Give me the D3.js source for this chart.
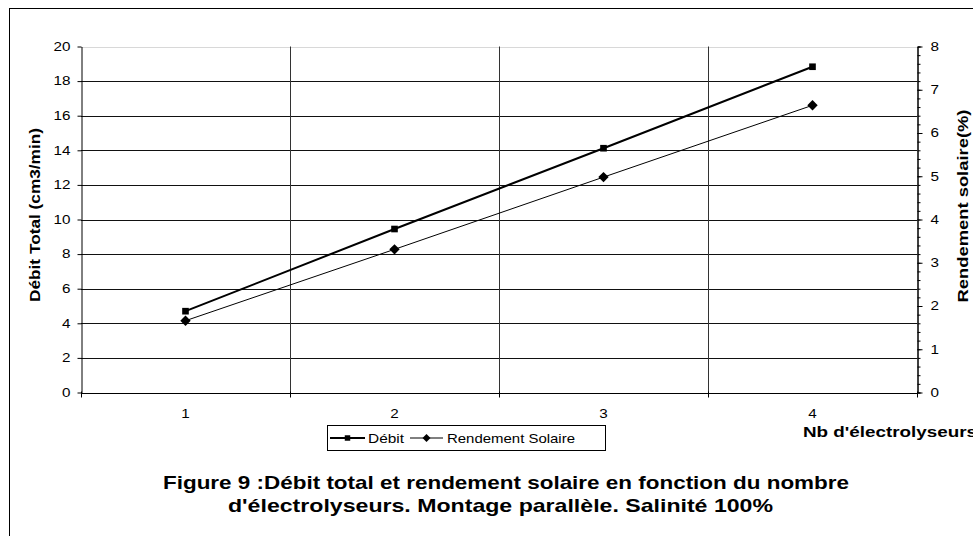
<!DOCTYPE html>
<html>
<head>
<meta charset="utf-8">
<script src="https://cdn.jsdelivr.net/npm/d3@7"></script>
<style>
	body { margin: 0; background: #fff; }
	svg { display: block; font-family: "Liberation Sans", Arial, sans-serif; }
</style>
</head>
<body>
<div id="chart"></div>
<script>
"use strict";

const width = 973, height = 536;
const margin = {top: 46.5, right: 56, bottom: 143.5, left: 81};

//---- Data
const categories = [1, 2, 3, 4];
const debit = [4.7, 9.45, 14.12, 18.83];
const rendement = [1.66, 3.31, 4.98, 6.64];
const leftTicks = [0, 2, 4, 6, 8, 10, 12, 14, 16, 18, 20];
const rightTicks = [0, 1, 2, 3, 4, 5, 6, 7, 8];

// the source picture is a bit wider than tall, so text gets stretched sideways
const stretch = 1.27;
function widen(sel, k) {
	sel.each(function () {
		let w = this.getComputedTextLength();
		d3.select(this).attr('textLength', w * k).attr('lengthAdjust', 'spacingAndGlyphs');
	});
}
function fit(sel, len) {
	sel.attr('textLength', len).attr('lengthAdjust', 'spacingAndGlyphs');
}

(() => {
	let svg = d3.select('#chart').append('svg')
		.attr('width', width)
		.attr('height', height);

	// outer frame, right and bottom edges fall outside the picture
	svg.append('rect')
		.attr('x', 9.5).attr('y', 8.5)
		.attr('width', 1000).attr('height', 600)
		.attr('fill', 'none')
		.attr('stroke', '#000');

	let x = d3.scaleBand()
		.domain(categories)
		.range([margin.left, width - margin.right]);
	let yL = d3.scaleLinear([0, 20], [height - margin.bottom, margin.top]);
	let yR = d3.scaleLinear([0, 8], [height - margin.bottom, margin.top]);

	//---- Grid
	svg.append('g')
		.selectAll('line')
		.data(leftTicks.filter(t => t > 0))
		.join('line')
		.attr('x1', margin.left).attr('x2', width - margin.right)
		.attr('y1', d => Math.round(yL(d)) + 0.5).attr('y2', d => Math.round(yL(d)) + 0.5)
		.attr('stroke', d => d === 20 ? '#d8d8d8' : '#111');

	svg.append('g')
		.selectAll('line')
		.data(categories.slice(1))
		.join('line')
		.attr('x1', d => Math.round(x(d)) + 0.5).attr('x2', d => Math.round(x(d)) + 0.5)
		.attr('y1', margin.top).attr('y2', height - margin.bottom)
		.attr('stroke', '#333');

	//---- Axes
	let left = svg.append('g')
		.attr('transform', `translate(${margin.left + 0.5},0)`)
		.call(d3.axisLeft(yL).tickValues(leftTicks).tickSizeInner(4).tickSizeOuter(0).tickPadding(7));

	svg.append('g')
		.attr('transform', `translate(${width - margin.right + 0.5},0)`)
		.call(d3.axisRight(yR).tickValues(d3.range(0, 8.01, 0.2)).tickSize(3).tickFormat(''));

	let right = svg.append('g')
		.attr('transform', `translate(${width - margin.right + 0.5},0)`)
		.call(d3.axisRight(yR).tickValues(rightTicks).tickSizeInner(5).tickSizeOuter(0).tickPadding(8));

	let bottomY = Math.round(yL(0)) + 0.5;
	let bottom = svg.append('g')
		.attr('transform', `translate(0,${bottomY})`);
	bottom.append('line')
		.attr('x1', margin.left).attr('x2', width - margin.right)
		.attr('stroke', '#000');
	bottom.selectAll('.tk')
		.data(x.domain().map(x).concat([x.range()[1]]))
		.join('line')
		.classed('tk', true)
		.attr('x1', d => Math.round(d) + 0.5)
		.attr('x2', d => Math.round(d) + 0.5)
		.attr('y1', -2).attr('y2', 4)
		.attr('stroke', '#000');
	bottom.selectAll('text')
		.data(categories)
		.join('text')
		.attr('x', d => x(d) + x.bandwidth() / 2)
		.attr('y', 24)
		.attr('text-anchor', 'middle')
		.attr('font-size', 12)
		.text(d => d)
		.call(widen, stretch);

	[left, right].forEach(g => {
		g.select('.domain').attr('stroke', '#000');
		g.selectAll('.tick line').attr('stroke', '#000');
		g.selectAll('.tick text').attr('font-size', 12).attr('fill', '#000')
			.attr('font-family', '"Liberation Sans", Arial, sans-serif')
			.call(widen, stretch);
	});
	svg.selectAll('.domain').attr('stroke', '#000');

	//---- Axis titles
	svg.append('text')
		.attr('transform', 'translate(40,215) rotate(-90)')
		.attr('text-anchor', 'middle')
		.attr('font-weight', 'bold')
		.attr('font-size', 15)
		.text('Débit Total (cm3/min)')
		.call(fit, 174);

	svg.append('text')
		.attr('transform', 'translate(968,206) rotate(-90)')
		.attr('text-anchor', 'middle')
		.attr('font-weight', 'bold')
		.attr('font-size', 15)
		.text('Rendement solaire(%)')
		.call(fit, 193);

	svg.append('text')
		.attr('x', 803).attr('y', 437)
		.attr('font-weight', 'bold')
		.attr('font-size', 15.5)
		.text("Nb d'électrolyseurs")
		.call(fit, 174);

	//---- Series
	let cx = d => x(d) + x.bandwidth() / 2;

	svg.append('path')
		.datum(categories.map((c, i) => [cx(c), yL(debit[i])]))
		.attr('d', d3.line())
		.attr('fill', 'none')
		.attr('stroke', '#000')
		.attr('stroke-width', 2);

	svg.append('path')
		.datum(categories.map((c, i) => [cx(c), yR(rendement[i])]))
		.attr('d', d3.line())
		.attr('fill', 'none')
		.attr('stroke', '#000')
		.attr('stroke-width', 1);

	svg.append('g')
		.selectAll('path')
		.data(categories)
		.join('path')
		.attr('transform', (c, i) => `translate(${cx(c)},${yL(debit[i])})`)
		.attr('d', d3.symbol(d3.symbolSquare, 44));

	svg.append('g')
		.selectAll('path')
		.data(categories)
		.join('path')
		.attr('transform', (c, i) => `translate(${cx(c)},${yR(rendement[i])}) rotate(45)`)
		.attr('d', d3.symbol(d3.symbolSquare, 54));

	//---- Legend
	let legend = svg.append('g');
	legend.append('rect')
		.attr('x', 327.5).attr('y', 425.5)
		.attr('width', 278).attr('height', 25)
		.attr('fill', '#fff')
		.attr('stroke', '#000');

	let items = [
		{name: 'Débit', x: 330, len: 35, rot: 0, size: 30, w: 2, tx: 368, tw: 36},
		{name: 'Rendement Solaire', x: 410, len: 33, rot: 45, size: 32, w: 1, tx: 447, tw: 128}
	];
	items.forEach(it => {
		legend.append('line')
			.attr('x1', it.x).attr('x2', it.x + it.len)
			.attr('y1', 438).attr('y2', 438)
			.attr('stroke', '#000')
			.attr('stroke-width', it.w);
		legend.append('path')
			.attr('transform', `translate(${it.x + it.len / 2},438) rotate(${it.rot})`)
			.attr('d', d3.symbol(d3.symbolSquare, it.size));
		legend.append('text')
			.attr('x', it.tx).attr('y', 442.5)
			.attr('font-size', 13.5)
			.text(it.name)
			.call(fit, it.tw);
	});

	//---- Caption
	let caption = svg.append('text')
		.attr('text-anchor', 'middle')
		.attr('font-weight', 'bold')
		.attr('font-size', 19);
	caption.append('tspan')
		.attr('x', 506).attr('y', 489)
		.text('Figure 9 :Débit total et rendement solaire en fonction du nombre')
		.call(fit, 686);
	caption.append('tspan')
		.attr('x', 500.5).attr('y', 512)
		.text("d'électrolyseurs. Montage parallèle. Salinité 100%")
		.call(fit, 545);
})();
</script>
</body>
</html>
